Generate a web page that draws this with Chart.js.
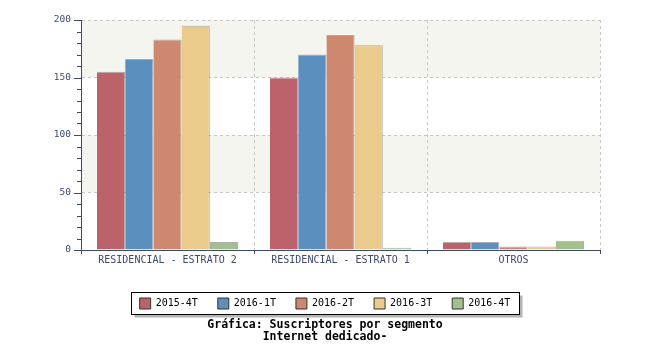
<!DOCTYPE html>
<html>
<head>
<meta charset="utf-8">
<script src="https://cdn.jsdelivr.net/npm/chart.js@4/dist/chart.umd.min.js"></script>
<style>
  html, body { margin: 0; padding: 0; background: #fff; }
  #wrap { width: 650px; height: 350px; }
</style>
</head>
<body>
<div id="wrap"><canvas id="barChart" width="650" height="350"></canvas></div>
<script>
const segmentos = ["RESIDENCIAL - ESTRATO 2", "RESIDENCIAL - ESTRATO 1", "OTROS"];
const trimestres = ["2015-4T", "2016-1T", "2016-2T", "2016-3T", "2016-4T"];
const suscriptores2015_4T = [155, 150, 7];
const suscriptores2016_1T = [166, 170, 7];
const suscriptores2016_2T = [183, 187, 3];
const suscriptores2016_3T = [195, 178, 3];
const suscriptores2016_4T = [7, 2, 8];
const yMax = 200;
const yStep = 50;

const colores = ["#bd616b", "#5b8fbe", "#cf8870", "#eacb8c", "#a3bf8d"];
const series = [suscriptores2015_4T, suscriptores2016_1T, suscriptores2016_2T, suscriptores2016_3T, suscriptores2016_4T];
const axisColor = "#3d4a6e";
const gridColor = "#c8c8c8";
const mono = "'DejaVu Sans Mono', 'Liberation Mono', monospace";

// franjas grises alternas y marcas del eje Y
const bandsPlugin = {
  id: "bands",
  beforeDraw(chart) {
    const { ctx, chartArea: a, scales: { y } } = chart;
    ctx.save();
    ctx.fillStyle = "#f5f5f0";
    for (let v = yMax; v > 0; v -= yStep * 2) {
      const top = y.getPixelForValue(v);
      const bottom = y.getPixelForValue(v - yStep);
      ctx.fillRect(a.left, top, a.right - a.left, bottom - top);
    }
    ctx.restore();
  },
  afterDraw(chart) {
    const { ctx, chartArea: a, scales: { y } } = chart;
    ctx.save();
    ctx.strokeStyle = axisColor;
    ctx.lineWidth = 1;
    for (let v = 0; v <= yMax; v += 10) {
      const py = Math.round(y.getPixelForValue(v)) + 0.5;
      const len = v % yStep === 0 ? 7 : 4;
      ctx.beginPath();
      ctx.moveTo(a.left - len, py);
      ctx.lineTo(a.left, py);
      ctx.stroke();
    }
    ctx.restore();
  },
};

// recuadro con sombra alrededor de la leyenda
const legendFramePlugin = {
  id: "legendFrame",
  beforeDraw(chart) {
    const boxes = chart.legend && chart.legend.legendHitBoxes;
    if (!boxes || !boxes.length) return;
    const first = boxes[0], last = boxes[boxes.length - 1];
    const x = Math.round(first.left - 9) + 0.5;
    const w = Math.round(last.left + last.width + 9 - x);
    const yTop = Math.round(first.top - 6) + 0.5;
    const h = 22;
    const { ctx } = chart;
    ctx.save();
    ctx.fillStyle = "#b4b4b4";
    ctx.fillRect(x + 3, yTop + 3, w, h);
    ctx.fillStyle = "#fff";
    ctx.fillRect(x, yTop, w, h);
    ctx.strokeStyle = "#000";
    ctx.lineWidth = 1;
    ctx.strokeRect(x, yTop, w, h);
    ctx.restore();
  },
};

new Chart(document.getElementById("barChart"), {
  type: "bar",
  data: {
    labels: segmentos,
    datasets: trimestres.map((t, i) => ({
      label: t,
      data: series[i],
      backgroundColor: colores[i],
      borderColor: "rgba(110,110,110,0.55)",
      borderWidth: { top: 1, right: 1, left: 0, bottom: 0 },
      categoryPercentage: 0.815,
      barPercentage: 1,
    })),
  },
  options: {
    responsive: false,
    animation: false,
    layout: { padding: { top: 20, left: 0, right: 0, bottom: 0 } },
    scales: {
      x: {
        grid: {
          color: (c) => (c.index === 0 ? "transparent" : gridColor),
          tickColor: axisColor,
          tickLength: 4,
          offset: true,
        },
        border: { color: axisColor, width: 1, dash: [3, 3] },
        ticks: {
          color: axisColor,
          font: { family: mono, size: 10 },
          padding: 0,
          maxRotation: 0,
          autoSkip: false,
        },
        afterFit: (s) => { s.height = 28; },
      },
      y: {
        min: 0,
        max: yMax,
        ticks: {
          stepSize: 10,
          autoSkip: false,
          color: axisColor,
          font: { family: mono, size: 9.5 },
          padding: 10,
          callback: (v) => (v % yStep === 0 ? v : ""),
        },
        grid: {
          drawTicks: false,
          color: (c) => (c.tick && c.tick.value % yStep === 0 && c.tick.value > 0 ? gridColor : "transparent"),
        },
        border: { color: axisColor, width: 1, dash: [3, 3] },
        afterFit: (s) => { s.width = 81; },
      },
      yRight: {
        position: "right",
        display: true,
        grid: { display: false, drawTicks: false },
        border: { display: false },
        ticks: { display: false },
        afterFit: (s) => { s.width = 50; },
      },
    },
    plugins: {
      legend: {
        position: "bottom",
        labels: {
          color: "#000",
          font: { family: mono, size: 10 },
          boxWidth: 11,
          boxHeight: 11,
          padding: 20,
          generateLabels: (chart) => chart.data.datasets.map((d, i) => ({
            text: d.label,
            fillStyle: colores[i],
            strokeStyle: "#333",
            lineWidth: 1,
            datasetIndex: i,
          })),
        },
      },
      title: {
        display: true,
        position: "bottom",
        text: ["Gráfica: Suscriptores por segmento", "Internet dedicado-"],
        color: "#000",
        font: { family: mono, size: 11.5, weight: "bold", lineHeight: "12px" },
        padding: { top: 0, bottom: 7 },
      },
      tooltip: { enabled: false },
    },
  },
  plugins: [bandsPlugin, legendFramePlugin],
});
</script>
</body>
</html>
